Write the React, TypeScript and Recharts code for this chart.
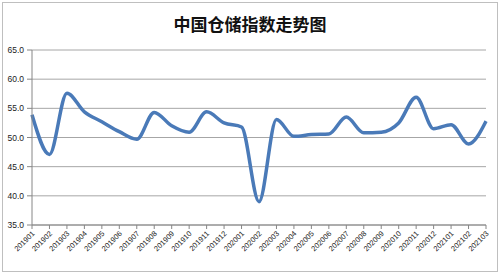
import React from "react";
import { LineChart, Line, XAxis, YAxis, CartesianGrid } from "recharts";

const months = [
    "201901", "201902", "201903", "201904", "201905", "201906", "201907", "201908", "201909",
    "201910", "201911", "201912", "202001", "202002", "202003", "202004", "202005", "202006",
    "202007", "202008", "202009", "202010", "202011", "202012", "202101", "202102", "202103",
];

const indexValues = [
    53.9, 47.1, 57.6, 54.4, 52.7, 51.0, 49.7, 54.3, 52.0,
    50.9, 54.4, 52.5, 51.8, 39.0, 53.1, 50.2, 50.5, 50.6,
    53.5, 50.8, 50.9, 52.5, 56.9, 51.5, 52.2, 48.9, 52.8,
];

const yTicks = [35, 40, 45, 50, 55, 60, 65];

const title = "中国仓储指数走势图";

const data = months.map((m, i) => ({ month: m, value: indexValues[i] }));

const MonthTick = (props: any) => {
    const { x, y, payload } = props;
    return (
        <g transform={`translate(${x + 1},${y + 1})`}>
            <text x={0} y={0} dy={3} transform="rotate(-45)" textAnchor="end" fontSize={7.5} fill="#222">
                {payload.value}
            </text>
        </g>
    );
};

export default function App() {
    return (
        <div
            style={{
                position: "absolute",
                left: 2,
                top: 2,
                width: 496,
                height: 270,
                border: "1px solid #bfbfbf",
                boxSizing: "border-box",
                background: "#fff",
                fontFamily: "'Liberation Sans', 'Noto Sans CJK SC', sans-serif",
            }}
        >
            <div
                style={{
                    position: "absolute",
                    left: 0,
                    right: 0,
                    top: 11,
                    textAlign: "center",
                    fontSize: 17,
                    fontWeight: "bold",
                    fontFamily: "'Noto Sans CJK SC', sans-serif",
                    color: "#111",
                    lineHeight: "20px",
                }}
            >
                {title}
            </div>
            <div style={{ position: "absolute", left: 0, top: 0 }}>
                <LineChart width={494} height={268} data={data} margin={{ top: 47, right: 11, left: 0, bottom: 0 }}>
                    <CartesianGrid horizontal vertical={false} stroke="#a6a6a6" />
                    <XAxis
                        dataKey="month"
                        interval={0}
                        height={46}
                        tick={<MonthTick />}
                        tickSize={4}
                        tickLine={{ stroke: "#868686" }}
                        axisLine={{ stroke: "#868686" }}
                    />
                    <YAxis
                        domain={[35, 65]}
                        ticks={yTicks}
                        width={29}
                        tickSize={5}
                        tickMargin={3}
                        tickFormatter={(v: number) => v.toFixed(1)}
                        tick={{ fontSize: 8.5, fill: "#222" }}
                        tickLine={{ stroke: "#868686" }}
                        axisLine={{ stroke: "#868686" }}
                    />
                    <Line
                        type="monotone"
                        dataKey="value"
                        stroke="#4a7ab8"
                        strokeWidth={3.5}
                        dot={false}
                        isAnimationActive={false}
                    />
                </LineChart>
            </div>
        </div>
    );
}
